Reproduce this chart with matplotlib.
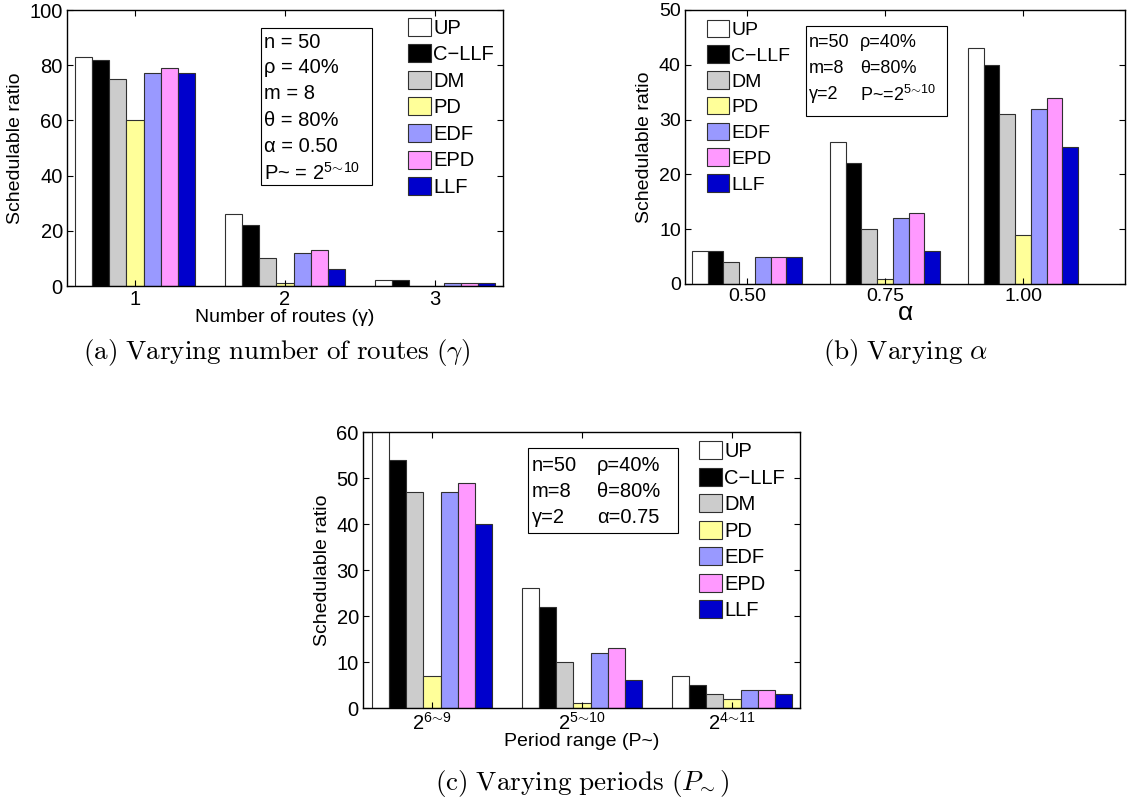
import matplotlib
matplotlib.use('Agg')
import matplotlib.pyplot as plt
import numpy as np

plt.rcParams['font.family'] = ['Liberation Sans', 'DejaVu Sans']
plt.rcParams['mathtext.fontset'] = 'custom'
plt.rcParams['mathtext.rm'] = 'Liberation Sans'
plt.rcParams['mathtext.it'] = 'Liberation Sans:italic'
plt.rcParams['mathtext.bf'] = 'Liberation Sans:bold'
plt.rcParams['axes.linewidth'] = 1.0

# policies and their bar colours
policies = ['UP', 'C\u2212LLF', 'DM', 'PD', 'EDF', 'EPD', 'LLF']
colors = ['#ffffff', '#000000', '#cccccc', '#ffff99', '#9999ff', '#ff99ff', '#0000cc']

# (a) varying number of routes, one row per policy
routes_ticks = ['1', '2', '3']
routes_ratio = [
    [83, 26, 2],
    [82, 22, 2],
    [75, 10, 0],
    [60, 1, 0],
    [77, 12, 1],
    [79, 13, 1],
    [77, 6, 1],
]

# (b) varying alpha
alpha_ticks = ['0.50', '0.75', '1.00']
alpha_ratio = [
    [6, 26, 43],
    [6, 22, 40],
    [4, 10, 31],
    [0, 1, 9],
    [5, 12, 32],
    [5, 13, 34],
    [5, 6, 25],
]

# (c) varying periods
period_ticks = [r'$2^{6\!\sim\!9}$', r'$2^{5\!\sim\!10}$', r'$2^{4\!\sim\!11}$']
period_ratio = [
    [62, 26, 7],
    [54, 22, 5],
    [47, 10, 3],
    [7, 1, 2],
    [47, 12, 4],
    [49, 13, 4],
    [40, 6, 3],
]


def draw_bars(ax, ratio, ticks, ymax, ystep, xlim, fs):
    x = np.arange(1, len(ticks) + 1)
    w = 0.8 / len(policies)
    for i, (name, vals, c) in enumerate(zip(policies, ratio, colors)):
        ax.bar(x - 0.4 + w * (i + 0.5), vals, w, color=c, edgecolor='#303030',
               linewidth=0.8, label=name)
    ax.set_xticks(x)
    ax.set_xticklabels(ticks, fontsize=fs)
    ax.set_yticks(np.arange(0, ymax + 1, ystep))
    ax.tick_params(axis='y', labelsize=fs)
    ax.set_ylim(0, ymax)
    ax.set_xlim(*xlim)
    ax.tick_params(direction='in', top=True, right=True, length=4, width=0.8, pad=3)
    ax.set_ylabel('Schedulable ratio', fontsize=14, labelpad=4)


def put_legend(ax, anchor, fs):
    ax.legend(loc='upper left', bbox_to_anchor=anchor, frameon=False, fontsize=fs,
              handlelength=1.15, handleheight=1.0, handletextpad=0.1,
              labelspacing=0.33, borderpad=0, borderaxespad=0)


def put_box(ax, x0, y0, x1, y1):
    ax.add_patch(plt.Rectangle((x0, y0), x1 - x0, y1 - y0, transform=ax.transAxes,
                               fill=False, edgecolor='black', linewidth=0.8))


fig = plt.figure(figsize=(11.3, 8), dpi=100)

# ---- (a)
ax = fig.add_axes([0.0593, 0.6425, 0.3858, 0.345])
draw_bars(ax, routes_ratio, routes_ticks, 100, 20, (0.547, 3.453), 14.5)
ax.set_xlabel('Number of routes (\u03b3)', fontsize=14, labelpad=0)
put_legend(ax, (0.782, 0.972), 14.5)
put_box(ax, 0.445, 0.366, 0.700, 0.935)
lines_a = ['n = 50', '\u03c1 = 40%', 'm = 8', '\u03b8 = 80%', '\u03b1 = 0.50',
           r'P~ = $2^{5\!\sim\!10}$']
for txt, fy in zip(lines_a, [0.884, 0.790, 0.696, 0.601, 0.504, 0.409]):
    ax.text(0.452, fy, txt, transform=ax.transAxes, fontsize=14.5, va='center')

# ---- (b)
ax = fig.add_axes([0.6062, 0.645, 0.3894, 0.3425])
draw_bars(ax, alpha_ratio, alpha_ticks, 50, 10, (0.551, 3.739), 14)
ax.set_xlabel('\u03b1', fontsize=19, labelpad=-3)
put_legend(ax, (0.05, 0.965), 14)
put_box(ax, 0.275, 0.614, 0.595, 0.943)
col1_b = ['n=50', 'm=8', '\u03b3=2']
col2_b = ['\u03c1=40%', '\u03b8=80%', r'P~=$2^{5\!\sim\!10}$']
for t1, t2, fy in zip(col1_b, col2_b, [0.881, 0.787, 0.690]):
    ax.text(0.282, fy, t1, transform=ax.transAxes, fontsize=13, va='center')
    ax.text(0.398, fy, t2, transform=ax.transAxes, fontsize=13, va='center')

# ---- (c)
ax = fig.add_axes([0.3212, 0.115, 0.3867, 0.345])
draw_bars(ax, period_ratio, period_ticks, 60, 10, (0.54, 3.453), 14.5)
ax.set_xlabel('Period range (P~)', fontsize=14, labelpad=-1)
put_legend(ax, (0.769, 0.967), 14.5)
put_box(ax, 0.378, 0.634, 0.721, 0.942)
col1_c = ['n=50', 'm=8', '\u03b3=2']
col2_c = ['\u03c1=40%', '\u03b8=80%', '\u03b1=0.75']
for t1, t2, fy in zip(col1_c, col2_c, [0.880, 0.786, 0.692]):
    ax.text(0.387, fy, t1, transform=ax.transAxes, fontsize=14.5, va='center')
    ax.text(0.535, fy, t2, transform=ax.transAxes, fontsize=14.5, va='center')

# captions in Computer Modern
fig.text(0.245, 0.559, r'$\mathrm{(a)\ Varying\ number\ of\ routes\ (}\gamma\mathrm{)}$',
         ha='center', va='center', fontsize=19.5, math_fontfamily='cm')
fig.text(0.801, 0.559, r'$\mathrm{(b)\ Varying\ }\alpha$',
         ha='center', va='center', fontsize=19.5, math_fontfamily='cm')
fig.text(0.515, 0.021, r'$\mathrm{(c)\ Varying\ periods\ (}P_{\!\sim}\mathrm{)}$',
         ha='center', va='center', fontsize=19.5, math_fontfamily='cm')

fig.savefig('out.png', dpi=100, facecolor='white')
